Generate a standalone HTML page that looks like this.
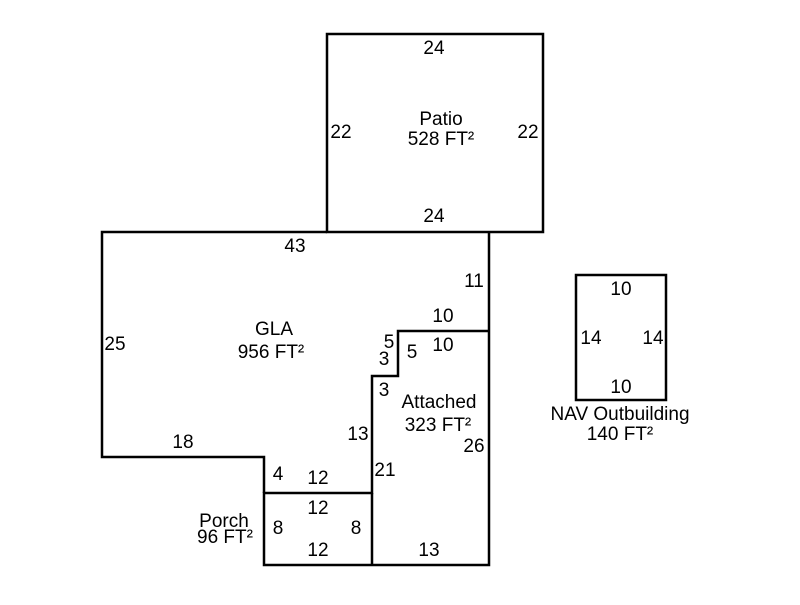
<!DOCTYPE html>
<html><head><style>body{margin:0;background:#fff}svg text{font-family:"Liberation Sans",Arial,sans-serif;font-size:19px;fill:#000}</style></head><body>
<svg width="800" height="600" xmlns="http://www.w3.org/2000/svg">
<g fill="none" stroke="#000" stroke-width="2.5">
<rect x="327" y="34" width="216" height="198"/>
<polyline points="327,232 102,232 102,457 264,457 264,493"/>
<polyline points="489,232 489,565 264,565 264,493 372,493 372,376 398,376 398,331 489,331"/>
<line x1="372" y1="493" x2="372" y2="565"/>
<rect x="576" y="275" width="90" height="125"/>
</g>
<g text-anchor="middle">
<text x="434" y="54">24</text>
<text x="441" y="125">Patio</text>
<text x="441" y="145">528 FT²</text>
<text x="341" y="138">22</text>
<text x="528" y="138">22</text>
<text x="434" y="222">24</text>
<text x="295" y="252">43</text>
<text x="474" y="287">11</text>
<text x="443" y="322">10</text>
<text x="443" y="351">10</text>
<text x="115" y="350">25</text>
<text x="274" y="335">GLA</text>
<text x="271" y="358">956 FT²</text>
<text x="389" y="348">5</text>
<text x="384" y="365">3</text>
<text x="412" y="358">5</text>
<text x="384" y="396">3</text>
<text x="439" y="408">Attached</text>
<text x="438" y="431">323 FT²</text>
<text x="358" y="440">13</text>
<text x="474" y="452">26</text>
<text x="183" y="448">18</text>
<text x="278" y="480">4</text>
<text x="318" y="484">12</text>
<text x="385" y="476">21</text>
<text x="318" y="514">12</text>
<text x="224" y="527">Porch</text>
<text x="225" y="543">96 FT²</text>
<text x="278" y="534">8</text>
<text x="356" y="534">8</text>
<text x="318" y="556">12</text>
<text x="429" y="556">13</text>
<text x="621" y="295">10</text>
<text x="591" y="344">14</text>
<text x="653" y="344">14</text>
<text x="621" y="393">10</text>
<text x="620" y="420">NAV Outbuilding</text>
<text x="620" y="440">140 FT²</text>
</g>
</svg>
</body></html>
